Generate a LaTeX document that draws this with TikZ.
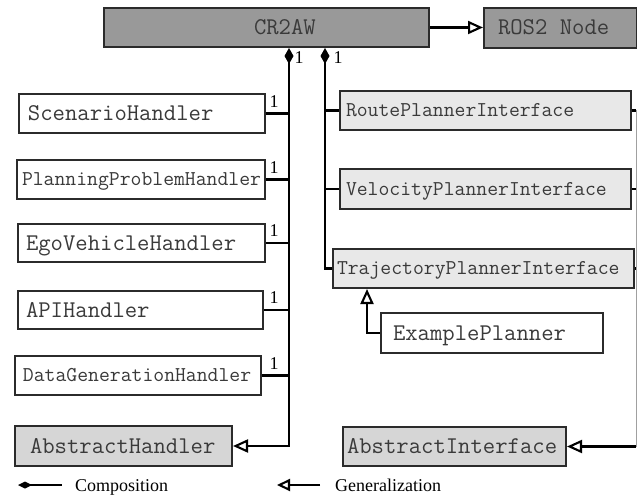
\documentclass[tikz,border=0pt]{standalone}
\usepackage{fontspec}
\setmainfont{Liberation Serif}
\usetikzlibrary{arrows.meta,calc}
\definecolor{edgec}{HTML}{2B2B2B}
\definecolor{txtc}{HTML}{3A3A3A}
\definecolor{darkfill}{HTML}{999999}
\definecolor{midfill}{HTML}{D6D6D6}
\definecolor{lightfill}{HTML}{E8E8E8}
\definecolor{railc}{HTML}{A0A0A0}
\newcommand\bigmono{\fontsize{24}{27}\selectfont\ttfamily}
\newcommand\smallmono{\fontsize{21.1}{24}\selectfont\ttfamily}
% class box body: fixed width, text left-aligned after a padding
\newcommand\clsbody[3]{\makebox[#1pt][l]{\hspace*{#2pt}#3}}
\begin{document}
\begin{tikzpicture}[x=1pt,y=-1pt,line join=miter,
  cls/.style={draw=edgec, line width=2pt, inner sep=0pt, anchor=north west,
    fill=white, text=txtc, font=\bigmono, text height=14pt, text depth=0pt},
  small/.style={font=\smallmono, text height=12.5pt},
  wire/.style={line width=2.1pt, draw=black},
  gen/.style={wire, -{Triangle[open, length=15pt, width=13pt]}},
  comp/.style={wire, {Diamond[length=16pt, width=9pt]}-},
  compgen/.style={wire, {Diamond[length=16pt, width=9pt]}-{Triangle[open, length=15pt, width=13pt]}},
  mult/.style={font=\fontsize{18}{20}\selectfont, inner sep=0pt, text=black},
  legend/.style={font=\fontsize{18}{20}\selectfont, inner sep=0pt, text=black, anchor=base west}]
\useasboundingbox (0,0) rectangle (637,497);

% classes
\node[cls, fill=darkfill, minimum height=39pt] (cr2aw) at (103,7) {\clsbody{325}{150}{CR2AW}};
\node[cls, fill=darkfill, minimum height=40pt] (ros) at (483,7) {\clsbody{153}{14}{ROS2 Node}};

\node[cls, minimum height=39pt] (scen) at (18,93) {\clsbody{246}{9}{ScenarioHandler}};
\node[cls, small, minimum height=39pt] (plan) at (16,159) {\clsbody{248}{5}{PlanningProblemHandler}};
\node[cls, minimum height=38pt] (ego) at (17,223) {\clsbody{247}{8}{EgoVehicleHandler}};
\node[cls, minimum height=38pt] (api) at (17,290) {\clsbody{245}{8}{APIHandler}};
\node[cls, small, minimum height=39pt] (data) at (14,355) {\clsbody{246}{8}{DataGenerationHandler}};
\node[cls, fill=midfill, minimum height=40pt] (absH) at (14,425) {\clsbody{217}{15}{AbstractHandler}};

\node[cls, small, fill=lightfill, minimum height=39pt] (route) at (339,90) {\clsbody{291}{6}{RoutePlannerInterface}};
\node[cls, small, fill=lightfill, minimum height=40pt] (velo) at (339,168) {\clsbody{291}{6}{VelocityPlannerInterface}};
\node[cls, small, fill=lightfill, minimum height=39pt] (traj) at (332,248) {\clsbody{301}{4}{TrajectoryPlannerInterface}};
\node[cls, minimum height=40pt] (exam) at (380,312) {\clsbody{222}{12}{ExamplePlanner}};
\node[cls, fill=midfill, minimum height=39pt] (absI) at (342,426) {\clsbody{223}{4}{AbstractInterface}};

% bus lines
\coordinate (tl) at (289,0);
\coordinate (tr) at (325,0);
\coordinate (rail) at (636,0);
\coordinate (ex) at (367,0);

% inheritance of the main node
\draw[gen] (cr2aw.east) -- (cr2aw.east -| ros.west);

% handler bus
\draw[compgen] (cr2aw.south -| tl) -- (absH.east -| tl) -- (absH.east);
\foreach \n in {scen,plan,ego,api,data}{
  \draw[wire] (\n.east) -- (\n.east -| tl);
  \node[mult] (m\n) at ($(\n.east -| tl)+(-15,-12)$) {1};
}
\node[mult] (mtl) at (299,58) {1};

% planner interface bus
\draw[comp] (cr2aw.south -| tr) -- (traj.west -| tr) -- (traj.west);
\draw[wire] (route.west) -- (route.west -| tr);
\draw[wire] (velo.west) -- (velo.west -| tr);
\node[mult] (mtr) at (338,58) {1};

% interface generalisation rail
\draw[railc, line width=1pt] (route.east -| rail) -- (absI.east -| rail);
\draw[wire] (route.east) -- (route.east -| rail);
\draw[wire] (velo.east) -- (velo.east -| rail);
\draw[wire] (traj.east) -- (traj.east -| rail);
\draw[gen] (absI.east -| rail) -- (absI.east);

% example planner
\draw[gen] (exam.west) -- (exam.west -| ex) -- (traj.south -| ex);

% legend
\coordinate (lc1) at (18,485);
\coordinate (lc2) at (62,485);
\draw[wire, {Diamond[length=14pt, width=7pt]}-] (lc1) -- (lc2);
\node[legend] (lcomp) at (75,491) {Composition};
\coordinate (lg1) at (320,485);
\coordinate (lg2) at (277,485);
\draw[wire, -{Triangle[open, length=13pt, width=12pt]}] (lg1) -- (lg2);
\node[legend] (lgen) at (335,491) {Generalization};
\end{tikzpicture}
\end{document}
